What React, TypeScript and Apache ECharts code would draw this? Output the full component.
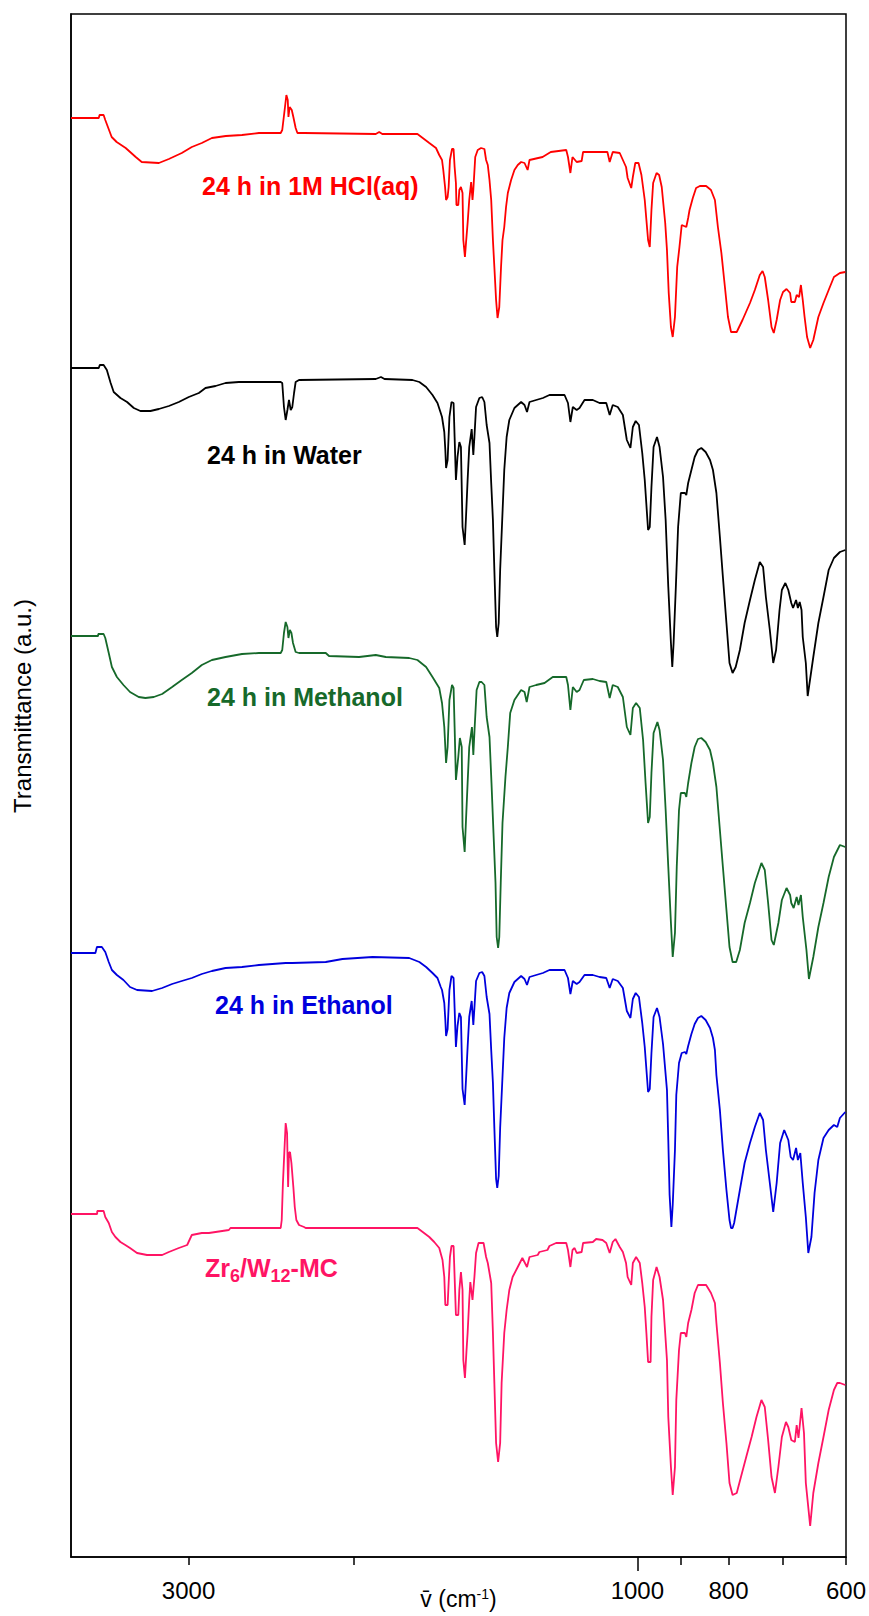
import React, { useEffect, useRef } from "react";
import * as echarts from "echarts";

// FT-IR spectra, [wavenumber (cm-1), transmittance (a.u., stacked)]
const hclSpectrum: [number, number][] = [
  [4000,143.9],[3737,143.9],[3730,144.2],[3693,144.2],[3678,143.7],[3621,142.0],[3577,141.5],[3499,140.9],[3414,140.0],[3364,139.5],[3226,139.4],[3148,139.8],[3050,140.4],[2976,141.0],[2904,141.4],[2833,141.9],[2738,142.1],[2632,142.2],[2525,142.4],[2394,142.4],[2385,142.7],[2369,145.0],[2361,146.2],[2353,145.7],[2349,144.0],[2342,145.0],[2330,144.7],[2321,144.0],[2308,142.9],[2298,142.4],[2261,142.4],[1897,142.3],[1881,142.5],[1867,142.3],[1713,142.3],[1691,141.9],[1664,141.4],[1637,140.9],[1624,140.2],[1613,139.7],[1608,138.7],[1601,137.0],[1597,135.7],[1591,136.0],[1587,137.0],[1582,139.7],[1574,140.8],[1568,140.8],[1564,139.0],[1559,137.4],[1557,135.2],[1550,135.2],[1546,136.7],[1540,137.0],[1534,136.4],[1531,131.7],[1525,130.0],[1521,131.4],[1515,133.4],[1509,135.7],[1502,137.5],[1497,135.7],[1494,136.7],[1487,140.0],[1478,140.7],[1466,140.9],[1454,140.8],[1448,139.7],[1442,139.2],[1436,137.7],[1430,135.7],[1424,131.7],[1419,129.0],[1413,125.7],[1408,123.9],[1402,125.0],[1396,129.0],[1391,131.7],[1385,133.0],[1379,135.0],[1373,136.4],[1362,137.7],[1351,138.7],[1340,139.2],[1329,139.5],[1318,139.4],[1308,138.7],[1302,139.7],[1261,140.0],[1236,140.5],[1190,140.7],[1185,140.0],[1178,138.4],[1172,140.0],[1160,139.5],[1146,139.6],[1142,140.5],[1076,140.5],[1070,139.5],[1062,140.5],[1044,140.4],[1036,139.7],[1028,139.0],[1024,137.9],[1015,136.9],[1011,138.0],[1005,139.4],[997,139.4],[990,138.2],[982,135.7],[978,133.7],[974,131.7],[970,131.0],[966,134.7],[962,137.4],[954,138.4],[948,138.2],[942,137.0],[934,133.4],[930,130.7],[926,126.4],[921,123.0],[917,122.0],[912,124.0],[907,129.0],[902,131.0],[897,133.2],[887,133.0],[883,133.9],[880,134.7],[873,135.9],[866,136.9],[858,137.1],[845,137.1],[835,136.7],[827,135.7],[821,133.0],[814,130.4],[807,127.0],[801,124.0],[795,122.5],[784,122.5],[773,123.7],[759,125.4],[750,126.7],[741,128.2],[736,128.6],[732,128.0],[726,125.7],[720,123.0],[716,122.4],[711,123.7],[705,125.7],[700,126.5],[694,126.8],[688,126.4],[686,125.5],[680,125.5],[677,126.2],[673,126.0],[670,127.2],[667,125.7],[664,124.0],[660,122.0],[655,120.9],[650,121.7],[642,124.0],[634,125.4],[626,126.7],[618,128.0],[609,128.4],[601,128.5],
];

const waterSpectrum: [number, number][] = [
  [4000,118.9],[3737,118.9],[3728,119.2],[3693,119.2],[3664,118.7],[3630,117.4],[3603,116.5],[3544,115.9],[3487,115.5],[3430,114.9],[3375,114.6],[3293,114.6],[3226,114.8],[3148,115.1],[3072,115.5],[2998,116.0],[2925,116.4],[2878,116.9],[2808,117.1],[2740,117.4],[2652,117.5],[2525,117.5],[2394,117.5],[2385,117.4],[2375,115.0],[2365,113.7],[2355,114.7],[2346,115.7],[2336,114.7],[2327,115.0],[2317,116.4],[2308,117.5],[2289,117.7],[1897,117.8],[1873,118.0],[1857,117.8],[1734,117.7],[1705,117.5],[1677,117.0],[1651,116.2],[1631,115.4],[1618,114.4],[1613,114.0],[1604,112.5],[1600,110.7],[1597,108.9],[1591,109.7],[1584,114.0],[1576,115.5],[1568,115.4],[1564,112.0],[1559,107.7],[1553,110.0],[1546,111.5],[1540,111.0],[1534,103.0],[1526,101.2],[1521,104.0],[1515,107.7],[1509,111.0],[1500,112.8],[1494,110.2],[1490,112.0],[1484,115.0],[1472,115.9],[1462,116.0],[1454,115.5],[1446,113.2],[1436,111.4],[1430,107.4],[1424,103.7],[1419,98.7],[1413,93.0],[1409,92.0],[1404,93.4],[1399,98.7],[1392,103.7],[1385,108.7],[1377,112.0],[1368,113.7],[1351,114.9],[1329,115.5],[1318,115.2],[1310,114.5],[1302,115.5],[1281,115.7],[1260,115.9],[1240,116.2],[1195,116.2],[1185,115.4],[1178,113.5],[1171,115.0],[1160,114.7],[1152,114.9],[1138,115.7],[1115,115.7],[1097,115.4],[1079,115.4],[1070,114.2],[1062,115.2],[1049,115.0],[1036,114.2],[1026,111.7],[1017,110.9],[1011,113.0],[1004,113.6],[996,113.2],[988,110.4],[982,107.7],[974,102.7],[970,103.0],[966,107.0],[961,111.0],[953,112.0],[947,111.0],[939,108.0],[933,103.7],[927,97.0],[921,91.4],[918,89.0],[915,91.4],[910,97.0],[905,103.0],[899,106.4],[890,106.4],[887,106.2],[883,107.4],[876,108.7],[869,110.0],[862,110.7],[855,110.9],[846,110.5],[837,109.7],[831,108.7],[824,106.4],[817,102.0],[811,98.0],[804,93.4],[798,89.4],[792,88.4],[786,89.0],[778,90.7],[769,93.4],[759,95.7],[750,97.7],[741,99.5],[735,99.0],[730,96.0],[723,92.7],[717,89.4],[712,90.7],[706,94.7],[702,96.7],[696,97.4],[691,96.7],[686,95.4],[683,94.9],[678,95.7],[675,94.9],[672,95.5],[669,94.7],[667,92.0],[662,89.4],[659,86.1],[650,90.0],[642,93.4],[634,96.0],[626,98.7],[618,99.9],[609,100.5],[601,100.7],
];

const methanolSpectrum: [number, number][] = [
  [4000,92.1],[3743,92.1],[3742,92.3],[3693,92.3],[3678,91.9],[3647,90.4],[3619,89.0],[3575,88.0],[3518,87.2],[3462,86.5],[3389,86.0],[3334,85.9],[3266,86.0],[3200,86.3],[3123,87.0],[3050,87.7],[2976,88.4],[2904,89.2],[2833,89.7],[2740,90.0],[2632,90.3],[2525,90.4],[2394,90.4],[2385,90.7],[2375,92.4],[2365,93.5],[2355,93.0],[2349,91.9],[2341,92.7],[2332,92.4],[2323,91.4],[2308,90.5],[2289,90.4],[2144,90.4],[2127,90.1],[1976,90.0],[1897,90.2],[1851,90.0],[1748,89.9],[1713,89.7],[1677,89.0],[1651,88.0],[1624,86.9],[1613,85.4],[1604,83.0],[1597,79.4],[1591,81.0],[1584,85.7],[1574,87.2],[1568,86.9],[1564,83.0],[1559,77.7],[1550,80.0],[1544,81.9],[1537,81.0],[1534,73.0],[1526,70.5],[1521,73.7],[1515,77.4],[1509,81.0],[1499,83.0],[1494,80.2],[1489,83.0],[1482,86.7],[1472,87.5],[1464,87.5],[1454,87.2],[1446,84.0],[1436,82.0],[1429,77.4],[1422,72.4],[1415,67.4],[1411,62.0],[1406,60.9],[1402,62.0],[1397,67.4],[1391,73.4],[1381,78.0],[1373,81.0],[1365,84.4],[1351,85.7],[1329,86.7],[1318,86.5],[1311,85.5],[1302,87.0],[1281,87.2],[1255,87.4],[1230,88.0],[1190,88.0],[1185,87.2],[1178,84.7],[1171,87.0],[1160,86.5],[1152,86.7],[1140,87.7],[1115,87.8],[1097,87.6],[1079,87.5],[1070,85.9],[1062,87.2],[1049,87.0],[1036,86.0],[1026,83.0],[1017,82.2],[1011,84.9],[1003,85.4],[994,84.9],[986,81.7],[980,77.4],[974,73.4],[970,74.0],[966,78.4],[961,82.4],[952,83.5],[947,82.7],[939,79.7],[933,74.7],[927,69.0],[921,63.4],[917,60.0],[912,62.4],[908,69.0],[903,74.7],[899,76.4],[890,76.4],[887,76.0],[883,77.4],[876,79.4],[869,81.0],[862,81.8],[855,81.9],[846,81.5],[837,80.7],[831,79.4],[824,77.0],[817,72.7],[811,69.0],[804,64.7],[798,61.0],[792,59.5],[785,59.5],[778,60.7],[769,63.4],[759,65.4],[750,67.4],[738,69.4],[732,68.7],[726,65.4],[720,61.7],[716,61.2],[708,63.4],[702,65.7],[694,66.9],[688,66.2],[686,65.4],[682,64.9],[677,66.0],[674,65.2],[670,66.2],[667,64.0],[661,60.7],[657,57.8],[650,60.0],[642,63.0],[634,65.4],[626,68.0],[618,70.0],[609,71.2],[601,71.0],
];

const ethanolSpectrum: [number, number][] = [
  [4000,60.4],[3768,60.4],[3754,61.0],[3709,61.0],[3678,60.5],[3647,59.5],[3619,58.7],[3575,58.2],[3518,57.7],[3462,57.0],[3403,56.7],[3280,56.6],[3200,56.9],[3123,57.3],[3050,57.6],[2976,57.9],[2904,58.3],[2833,58.6],[2740,58.9],[2632,59.0],[2525,59.2],[2365,59.4],[2327,59.4],[2144,59.5],[2058,59.8],[1912,60.0],[1748,59.9],[1705,59.5],[1677,59.0],[1651,58.4],[1631,57.9],[1618,57.0],[1613,56.7],[1604,55.4],[1600,53.7],[1597,52.1],[1591,52.8],[1584,56.7],[1576,58.1],[1568,57.9],[1564,54.9],[1559,51.0],[1553,53.1],[1546,54.4],[1540,54.0],[1534,46.8],[1526,45.2],[1521,47.7],[1515,51.0],[1509,54.0],[1500,55.6],[1494,53.2],[1490,54.9],[1484,57.6],[1472,58.4],[1462,58.5],[1454,58.1],[1446,56.0],[1436,54.3],[1430,50.7],[1424,47.4],[1419,42.9],[1413,37.8],[1409,36.9],[1404,38.1],[1399,42.9],[1392,47.4],[1385,51.9],[1377,54.9],[1368,56.4],[1351,57.5],[1329,58.1],[1318,57.8],[1310,57.2],[1302,58.0],[1281,58.2],[1260,58.4],[1240,58.7],[1195,58.7],[1185,57.9],[1178,56.3],[1171,57.6],[1160,57.3],[1152,57.5],[1138,58.2],[1115,58.2],[1097,58.0],[1079,57.9],[1070,56.9],[1062,57.8],[1049,57.6],[1036,56.9],[1026,54.6],[1017,53.9],[1011,55.8],[1004,56.4],[996,56.0],[988,53.4],[982,51.0],[974,46.5],[970,46.8],[966,50.4],[961,54.0],[953,54.9],[947,54.0],[939,51.3],[930,46.7],[927,41.7],[924,36.2],[920,33.0],[917,35.2],[912,40.7],[909,46.2],[903,49.4],[897,50.4],[890,50.5],[887,50.3],[883,51.1],[876,52.3],[869,53.3],[862,53.9],[855,54.1],[846,53.7],[837,52.9],[831,51.9],[827,50.7],[824,48.2],[817,44.7],[811,40.7],[804,36.7],[798,33.7],[795,32.9],[792,32.9],[789,33.4],[778,36.7],[769,39.4],[759,41.4],[750,43.0],[741,44.4],[735,43.7],[730,40.7],[723,37.4],[717,34.5],[711,37.4],[705,41.4],[698,42.7],[691,41.7],[687,40.0],[683,39.7],[678,40.9],[675,39.7],[671,40.4],[667,37.4],[662,34.0],[658,30.4],[653,32.0],[648,36.4],[642,39.7],[634,41.9],[626,42.7],[618,43.2],[613,43.0],[609,43.9],[601,44.5],
];

const pristineSpectrum: [number, number][] = [
  [4000,34.3],[3752,34.3],[3751,34.6],[3693,34.6],[3678,34.0],[3647,33.4],[3619,32.5],[3588,32.0],[3544,31.5],[3502,31.2],[3462,30.9],[3403,30.4],[3321,30.2],[3200,30.2],[3148,30.5],[3072,30.9],[3010,31.2],[2976,32.2],[2904,32.4],[2854,32.4],[2718,32.7],[2707,32.9],[2394,32.9],[2388,33.7],[2381,37.4],[2373,40.4],[2365,43.4],[2357,42.4],[2351,37.0],[2346,40.4],[2340,40.5],[2332,39.4],[2321,37.0],[2313,35.0],[2304,33.7],[2289,33.2],[2261,33.0],[2252,32.9],[1713,32.9],[1691,32.5],[1664,32.0],[1644,31.5],[1624,30.9],[1611,29.7],[1604,28.0],[1600,25.2],[1591,25.2],[1587,27.4],[1582,30.0],[1576,31.1],[1568,31.1],[1564,28.0],[1559,24.2],[1550,24.2],[1546,26.7],[1540,28.5],[1534,26.7],[1531,19.7],[1525,17.9],[1519,20.7],[1515,22.4],[1509,25.7],[1505,27.5],[1497,25.7],[1490,28.0],[1484,30.4],[1475,31.4],[1457,31.4],[1448,30.0],[1442,29.4],[1430,27.4],[1424,22.4],[1419,17.4],[1413,11.4],[1406,9.5],[1399,11.4],[1394,17.4],[1385,22.4],[1377,24.7],[1368,26.7],[1357,28.0],[1340,29.0],[1325,29.9],[1310,29.0],[1302,30.0],[1276,30.2],[1271,30.5],[1246,30.7],[1240,31.1],[1220,31.4],[1190,31.4],[1185,30.7],[1178,29.0],[1172,30.7],[1166,30.9],[1160,30.4],[1146,30.5],[1142,31.4],[1115,31.5],[1106,31.8],[1089,31.7],[1079,31.4],[1070,30.4],[1062,31.5],[1055,31.8],[1044,31.0],[1036,30.5],[1028,29.4],[1024,28.0],[1015,27.2],[1011,29.4],[1003,30.0],[994,29.4],[988,27.4],[982,25.0],[978,22.4],[974,19.5],[968,19.5],[966,24.0],[962,27.7],[954,29.0],[947,28.0],[939,25.7],[930,19.7],[927,14.0],[921,9.0],[917,6.2],[912,9.0],[909,15.7],[903,20.7],[899,22.4],[890,22.4],[887,22.0],[883,23.4],[876,24.7],[869,26.4],[862,27.2],[845,27.2],[835,26.4],[827,25.4],[824,23.4],[817,19.4],[811,15.4],[804,11.4],[798,7.4],[792,6.2],[784,6.4],[776,8.0],[766,10.0],[756,12.0],[747,14.0],[738,15.7],[732,15.0],[726,11.7],[720,8.0],[714,6.4],[708,9.0],[702,12.0],[695,13.5],[691,13.0],[686,11.7],[680,11.5],[677,13.2],[674,11.9],[669,14.9],[665,12.4],[662,7.4],[655,3.1],[650,6.4],[642,9.4],[634,12.0],[626,14.7],[618,16.7],[613,17.4],[609,17.4],[601,17.2],
];

// Axis: log-scaled wavenumber, high to low
const wavenumberRange = [600, 4000];
const tickWavenumbers = [3000, 2000, 900, 800, 700, 600];
const majorTickWavenumbers = [1000];
const labelWavenumbers = [3000, 1000, 800, 600];
const transmittanceRange = [0, 154.3];

const spectra = [
  { name: "24 h in 1M HCl(aq)", color: "#FF0000", data: hclSpectrum },
  { name: "24 h in Water", color: "#000000", data: waterSpectrum },
  { name: "24 h in Methanol", color: "#16692A", data: methanolSpectrum },
  { name: "24 h in Ethanol", color: "#0000DD", data: ethanolSpectrum },
  { name: "Zr6/W12-MC", color: "#FF1464", data: pristineSpectrum },
];

const FONT = "'Liberation Sans', Arial, Helvetica, sans-serif";

export default function App() {
  const ref = useRef<HTMLDivElement>(null);

  useEffect(() => {
    if (!ref.current) return;
    const chart = echarts.init(ref.current, null, { renderer: "svg" });
    const lg = (v: number) => Math.log10(v);
    const axisLineStyle = { color: "#000", width: 1.5 };
    const baseX = {
      type: "value" as const,
      min: lg(wavenumberRange[0]),
      max: lg(wavenumberRange[1]),
      inverse: true,
      position: "bottom" as const,
      splitLine: { show: false },
    };

    const labelText = (text: string, x: number, y: number, color: string) => ({
      type: "text",
      x,
      y,
      silent: true,
      style: {
        text,
        fill: color,
        fontSize: 25,
        fontWeight: "bold",
        fontFamily: FONT,
        align: "left",
        verticalAlign: "middle",
      },
    });

    chart.setOption({
      animation: false,
      backgroundColor: "#ffffff",
      grid: {
        left: 71,
        right: 23,
        top: 14,
        bottom: 59,
        show: true,
        borderColor: "#000",
        borderWidth: 1.5,
        containLabel: false,
        outerBoundsMode: "none",
      },
      xAxis: [
        {
          ...baseX,
          axisLine: { show: true, onZero: false, lineStyle: axisLineStyle },
          axisTick: {
            show: true,
            customValues: tickWavenumbers.map(lg),
            length: 8,
            lineStyle: axisLineStyle,
          },
          axisLabel: {
            show: true,
            customValues: labelWavenumbers.map(lg),
            formatter: (v: number) => String(Math.round(Math.pow(10, v))),
            color: "#000",
            fontSize: 24,
            fontFamily: FONT,
            margin: 21,
          },
          name: "v\u0304 (cm{sup|-1})",
          nameLocation: "middle",
          nameGap: 30,
          nameMoveOverlap: false,
          nameTextStyle: {
            color: "#000",
            fontSize: 23,
            fontFamily: FONT,
            rich: {
              sup: { fontSize: 14, fontFamily: FONT, color: "#000", verticalAlign: "top" },
            },
          },
        },
        {
          ...baseX,
          axisLine: { show: false, onZero: false },
          axisTick: {
            show: true,
            customValues: majorTickWavenumbers.map(lg),
            length: 14,
            lineStyle: axisLineStyle,
          },
          axisLabel: { show: false },
        },
      ],
      yAxis: {
        type: "value",
        min: transmittanceRange[0],
        max: transmittanceRange[1],
        axisLine: { show: true, onZero: false, lineStyle: axisLineStyle },
        axisTick: { show: false },
        axisLabel: { show: false },
        splitLine: { show: false },
      },
      series: spectra.map((s) => ({
        type: "line",
        name: s.name,
        xAxisIndex: 0,
        yAxisIndex: 0,
        data: s.data.map(([w, t]) => [lg(w), t]),
        showSymbol: false,
        symbol: "none",
        silent: true,
        clip: true,
        lineStyle: { color: s.color, width: 1.8 },
        itemStyle: { color: s.color },
      })),
      graphic: [
        {
          type: "text",
          x: 22,
          y: 706,
          rotation: Math.PI / 2,
          silent: true,
          style: {
            text: "Transmittance (a.u.)",
            fill: "#000",
            fontSize: 24,
            fontFamily: FONT,
            align: "center",
            verticalAlign: "middle",
          },
        },
        labelText(spectra[0].name, 202, 186, spectra[0].color),
        labelText(spectra[1].name, 207, 455, spectra[1].color),
        labelText(spectra[2].name, 207, 697, spectra[2].color),
        labelText(spectra[3].name, 215, 1005, spectra[3].color),
        {
          type: "text",
          x: 205,
          y: 1268,
          silent: true,
          style: {
            text: "{a|Zr}{b|6}{a|/W}{b|12}{a|-MC}",
            align: "left",
            verticalAlign: "middle",
            rich: {
              a: { fill: spectra[4].color, fontSize: 25, fontWeight: "bold", fontFamily: FONT, lineHeight: 34 },
              b: { fill: spectra[4].color, fontSize: 18, fontWeight: "bold", fontFamily: FONT, lineHeight: 18, verticalAlign: "bottom" },
            },
          },
        },
      ],
    });

    return () => chart.dispose();
  }, []);

  return (
    <div
      ref={ref}
      style={{ position: "absolute", left: 0, top: 0, width: 869, height: 1616, background: "#fff" }}
    />
  );
}
